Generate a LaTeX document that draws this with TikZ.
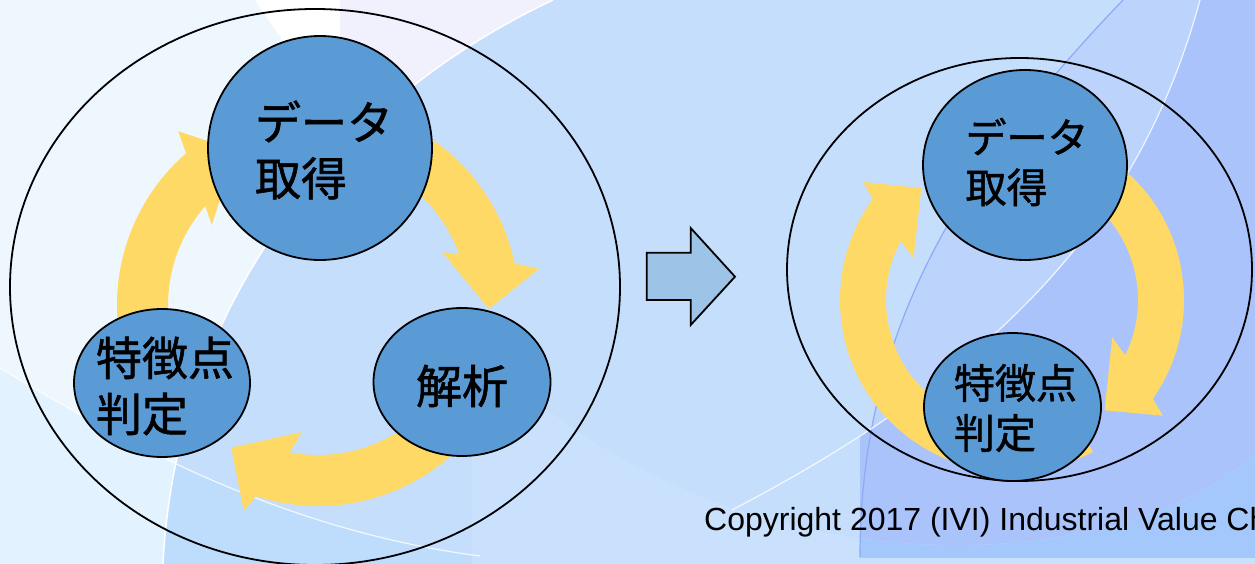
\documentclass[tikz,border=0pt]{standalone}
\usepackage{fontspec}
\setmainfont{Liberation Sans}
\newfontfamily\jp[FakeBold=1.2]{Noto Sans CJK JP}
\usetikzlibrary{shapes.geometric}
\definecolor{bgbase}{HTML}{C5DEFC}
\definecolor{bglight}{HTML}{EFF7FE}
\definecolor{bglav}{HTML}{F1F0FD}
\definecolor{bgbandL}{HTML}{E2F2FE}
\definecolor{bgbandB}{HTML}{BEDCFB}
\definecolor{bgmidR}{HTML}{BCD3FC}
\definecolor{bgdarkR}{HTML}{ABC3FB}
\definecolor{bgarcL}{HTML}{C9E1FC}
\definecolor{bgarcR}{HTML}{A4C7FC}
\definecolor{bgblueline}{HTML}{8EA9F5}
\definecolor{nodeblue}{HTML}{5B9BD5}
\definecolor{gold}{HTML}{FFD966}
\definecolor{blockblue}{HTML}{9DC3E6}
\newcommand{\jpL}{\jp\fontsize{46}{56}\selectfont}
\newcommand{\jpS}{\jp\fontsize{41}{50}\selectfont}
\begin{document}
\begin{tikzpicture}[x=1pt,y=1pt,
  bubble/.style={ellipse, draw=black, line width=1.8pt, fill=nodeblue, inner sep=0pt},
  ring/.style={ellipse, draw=black, line width=1.8pt, inner sep=0pt},
  label text/.style={align=left, inner sep=0pt, text=black},
  cyc/.style={fill=gold},
  blockarrow/.style={fill=blockblue, draw=black, line width=1.8pt, line join=miter}]
\useasboundingbox (0,0) rectangle (1255,-564);
\clip (0,0) rectangle (1255,-564);
% ---------- background ----------
\fill[bgbase] (0,0) rectangle (1255,-564);
\begin{scope}
  \clip (0,-300) rectangle (472,-564);
  \fill[bgbandB] (0,-368) .. controls (120,-440) and (280,-530) .. (480,-556) -- (480,-564) -- (0,-564) -- cycle;
\end{scope}
\fill[bglight] (0,0) -- (553,0) .. controls (320,-110) and (175,-320) .. (163,-564) -- (0,-564) -- cycle;
\begin{scope}
  \clip (0,0) -- (553,0) .. controls (320,-110) and (175,-320) .. (163,-564) -- (0,-564) -- cycle;
  \fill[bglav] (340,0) rectangle (600,-140);
  \fill[white] (255,0) -- (340,0) -- (340,-60) -- (296,-60) -- cycle;
  \fill[bgbandL] (0,-368) .. controls (120,-440) and (280,-530) .. (480,-556) -- (480,-564) -- (0,-564) -- cycle;
\end{scope}
\fill[bgmidR] (1123,0) .. controls (960,-170) and (860,-330) .. (860,-557) -- (1255,-557) -- (1255,0) -- cycle;
\begin{scope}
  \clip (860,0) rectangle (1255,-557);
  \fill[bgdarkR] (1200,0) .. controls (1140,-220) and (1000,-370) .. (732,-510) -- (732,-557) -- (1255,-557) -- (1255,0) -- cycle;
\end{scope}
\fill[bgarcL] (472,-340) .. controls (700,-590) and (1100,-590) .. (1255,-455) -- (1255,-564) -- (472,-564) -- cycle;
\begin{scope}
  \clip (860,0) rectangle (1255,-557);
  \fill[bgarcR] (472,-340) .. controls (700,-590) and (1100,-590) .. (1255,-455) -- (1255,-564) -- (472,-564) -- cycle;
\end{scope}
\draw[white, line width=1.5pt] (553,0) .. controls (320,-110) and (175,-320) .. (163,-564);
\draw[white, line width=1.2pt, opacity=0.8] (0,-368) .. controls (120,-440) and (280,-530) .. (480,-556);
\draw[bgblueline, line width=1.2pt] (1123,0) .. controls (960,-170) and (860,-330) .. (860,-557);
\draw[white, line width=1.2pt, opacity=0.8] (1200,0) .. controls (1140,-220) and (1000,-370) .. (732,-510);
% ---------- left cycle ----------
\node[ring, minimum width=610pt, minimum height=556pt] (outerL) at (315,-287) {};
\begin{scope}[shift={(318,-305)}]
  % data -> analysis
  \fill[cyc] (70:201) arc[start angle=70, end angle=12, radius=201] -- (9.3:224) -- (-1.3:171)
     -- (23:135) -- (20:150) arc[start angle=20, end angle=70, radius=150] -- cycle;
  % analysis -> judge
  \fill[cyc] (-20:201) arc[start angle=-20, end angle=-108, radius=201] -- (-109.8:219) -- (-121.3:167)
     -- (-97.2:128) -- (-100.9:150) arc[start angle=-100.9, end angle=-20, radius=150] -- cycle;
  % judge -> data
  \fill[cyc] (200:201) arc[start angle=200, end angle=131, radius=201] -- (128.8:223) -- (118:175)
     -- (143:133) -- (138.7:150) arc[start angle=138.7, end angle=200, radius=150] -- cycle;
\end{scope}
\node[bubble, minimum width=224pt, minimum height=224pt] (acqL) at (320,-148) {};
\node[bubble, minimum width=176pt, minimum height=148pt] (judgeL) at (162,-383) {};
\node[bubble, minimum width=177pt, minimum height=148pt] (analL) at (462,-382) {};
\node[label text, font=\jpL] (acqLt) at ([xshift=4pt,yshift=-2pt]acqL.center) {データ\\取得};
\node[label text, font=\jpL] (judgeLt) at ([xshift=3pt,yshift=-3pt]judgeL.center) {特徴点\\判定};
\node[label text, font=\jpL] (analLt) at ([yshift=-4pt]analL.center) {解析};
% ---------- block arrow ----------
\draw[blockarrow] (646.7,-252.7) -- (690.7,-252.7) -- (690.7,-228) -- (735,-276.7) -- (690.7,-325) -- (690.7,-300) -- (646.7,-300) -- cycle;
% ---------- right cycle ----------
\node[ring, minimum width=465pt, minimum height=423pt] (outerR) at (1019.5,-269.5) {};
\begin{scope}[shift={(1012,-300)}]
  % data -> judge (right side)
  \fill[cyc] (95:172) arc[start angle=95, end angle=-35, radius=172] -- (-37.5:190) -- (-50:144)
     -- (-20.5:107) -- (-26:126) arc[start angle=-26, end angle=95, radius=126] -- cycle;
  % judge -> data (left side)
  \fill[cyc] (-62:172) arc[start angle=-62, end angle=-216, radius=172] -- (-218.4:190) -- (-231:144)
     -- (-203:107) -- (-208:126) arc[start angle=-208, end angle=-62, radius=126] -- cycle;
\end{scope}
\node[bubble, minimum width=204pt, minimum height=190pt] (acqR) at (1025,-165) {};
\node[bubble, minimum width=177pt, minimum height=148pt] (judgeR) at (1012.5,-407) {};
\node[label text, font=\jpS] (acqRt) at ([xshift=2pt,yshift=3pt]acqR.center) {データ\\取得};
\node[label text, font=\jpS] (judgeRt) at ([xshift=3pt,yshift=-1pt]judgeR.center) {特徴点\\判定};
% ---------- copyright ----------
\node[anchor=base west, inner sep=0pt, font=\fontsize{32}{38}\selectfont] (copy) at (704,-530.7) {Copyright 2017 (IVI) Industrial Value Ch};
\end{tikzpicture}
\end{document}
